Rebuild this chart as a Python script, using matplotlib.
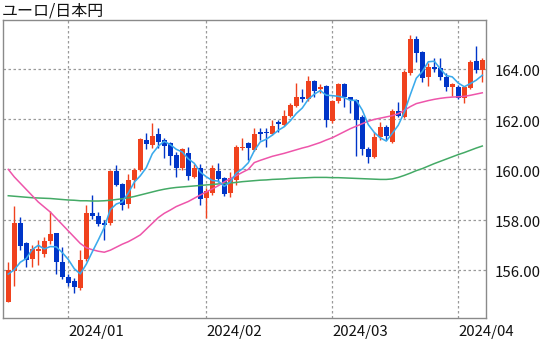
import matplotlib
matplotlib.use("Agg")
import matplotlib.pyplot as plt
import matplotlib.transforms as mtransforms
import numpy as np
import pandas as pd

plt.rcParams["font.family"] = ["Noto Sans CJK JP", "DejaVu Sans"]

title = "ユーロ/日本円"
start_date = "2023-12-18"  # first business day shown

opens = [154.73, 155.95, 157.88, 157.05, 156.43, 156.75, 156.62, 157.15, 157.45, 156.32,
         155.70, 155.54, 155.29, 156.43, 158.25, 158.14, 157.88, 157.85, 159.94, 159.42,
         158.61, 159.58, 159.98, 161.18, 160.97, 161.42, 161.16, 161.04, 160.57, 160.07,
         160.64, 159.70, 160.07, 158.85, 159.05, 159.95, 159.64, 159.07, 159.58, 160.84,
         161.04, 160.77, 161.50, 161.50, 161.41, 161.88, 161.77, 162.13, 162.54, 162.90,
         162.79, 163.54, 163.19, 163.32, 161.93, 162.74, 163.40, 162.87, 162.77, 162.10,
         160.80, 160.51, 161.30, 161.70, 161.10, 162.33, 162.07, 163.83, 165.18, 164.68,
         163.69, 164.09, 164.03, 163.69, 163.27, 163.30, 162.86, 163.23, 164.32, 163.96]
highs = [156.30, 158.55, 158.10, 157.09, 156.99, 157.17, 157.32, 158.34, 157.48, 156.91,
         155.82, 155.69, 156.78, 158.58, 158.98, 158.30, 158.00, 159.98, 160.18, 159.45,
         159.82, 160.04, 161.24, 161.44, 161.83, 161.64, 161.24, 161.10, 160.71, 160.87,
         160.91, 160.20, 160.20, 159.25, 160.18, 160.24, 159.71, 159.91, 160.97, 161.24,
         161.10, 161.64, 161.64, 161.64, 161.97, 161.97, 162.37, 162.63, 163.46, 163.19,
         163.72, 163.56, 163.40, 163.36, 162.77, 163.46, 163.43, 162.90, 162.79, 162.17,
         160.88, 161.50, 161.90, 161.77, 162.39, 162.70, 163.96, 165.35, 165.32, 164.73,
         164.23, 164.43, 164.43, 163.85, 163.46, 163.36, 163.32, 164.36, 164.92, 164.43]
lows = [154.70, 155.37, 156.79, 156.12, 156.12, 156.19, 156.52, 157.01, 155.82, 155.62,
        155.35, 155.09, 155.18, 156.35, 158.01, 157.76, 157.19, 157.80, 159.34, 158.38,
        158.48, 159.25, 159.94, 160.81, 160.84, 160.84, 160.44, 160.18, 159.70, 159.98,
        159.58, 159.64, 158.58, 158.05, 158.98, 159.51, 158.94, 158.91, 159.38, 160.77,
        160.37, 160.75, 161.17, 160.91, 161.37, 161.50, 161.73, 162.08, 162.50, 162.70,
        162.74, 162.90, 163.03, 161.70, 161.86, 162.63, 162.50, 162.23, 160.53, 160.57,
        160.24, 160.44, 161.17, 161.17, 161.07, 162.07, 162.03, 163.76, 164.29, 163.50,
        163.32, 163.89, 163.56, 163.14, 162.92, 162.81, 162.63, 163.19, 163.83, 163.50]
closes = [155.99, 157.88, 156.95, 156.39, 156.83, 156.83, 157.15, 157.43, 156.32, 155.70,
          155.46, 155.31, 156.39, 158.25, 158.16, 157.82, 157.80, 159.94, 159.38, 158.58,
          159.58, 159.97, 161.21, 161.00, 161.34, 161.10, 160.94, 160.55, 160.07, 160.80,
          159.75, 160.04, 158.81, 159.12, 160.07, 159.62, 159.01, 159.64, 160.91, 160.91,
          160.84, 161.41, 161.40, 161.44, 161.73, 161.80, 162.13, 162.57, 162.90, 162.82,
          163.54, 163.14, 163.30, 161.97, 162.74, 163.40, 162.87, 162.77, 161.97, 160.80,
          160.51, 161.30, 161.70, 161.33, 162.33, 162.13, 163.89, 165.18, 164.62, 163.65,
          164.09, 164.00, 163.67, 163.27, 163.39, 162.86, 163.27, 164.29, 163.96, 164.36]

# 5-day average values for the first bars (their window starts before the chart)
ma5_first = [155.83, 156.00, 156.30, 156.45]

ma25 = [160.00, 159.70, 159.45, 159.20, 158.95, 158.70, 158.50, 158.30, 158.05, 157.80,
        157.55, 157.30, 157.05, 156.88, 156.80, 156.74, 156.70, 156.78, 156.90, 157.02,
        157.12, 157.25, 157.39, 157.62, 157.85, 158.08, 158.25, 158.38, 158.52, 158.62,
        158.72, 158.85, 158.98, 159.10, 159.22, 159.35, 159.50, 159.63, 159.75, 159.88,
        160.00, 160.27, 160.36, 160.44, 160.52, 160.58, 160.64, 160.71, 160.78, 160.85,
        160.91, 160.99, 161.07, 161.17, 161.26, 161.38, 161.50, 161.62, 161.72, 161.82,
        161.92, 161.99, 162.04, 162.09, 162.14, 162.22, 162.35, 162.50, 162.62, 162.68,
        162.74, 162.79, 162.83, 162.86, 162.88, 162.89, 162.91, 162.95, 163.00, 163.05]

ma75 = [158.95, 158.93, 158.91, 158.89, 158.87, 158.86, 158.85, 158.84, 158.82, 158.80,
        158.78, 158.77, 158.75, 158.75, 158.74, 158.74, 158.75, 158.77, 158.80, 158.83,
        158.87, 158.92, 158.98, 159.04, 159.10, 159.16, 159.21, 159.25, 159.28, 159.30,
        159.32, 159.34, 159.36, 159.38, 159.40, 159.42, 159.44, 159.46, 159.48, 159.51,
        159.53, 159.55, 159.57, 159.58, 159.60, 159.61, 159.62, 159.64, 159.65, 159.66,
        159.67, 159.68, 159.68, 159.68, 159.67, 159.67, 159.66, 159.65, 159.64, 159.63,
        159.62, 159.61, 159.60, 159.60, 159.62, 159.68, 159.76, 159.85, 159.95, 160.03,
        160.13, 160.23, 160.32, 160.41, 160.50, 160.59, 160.67, 160.76, 160.85, 160.93]

y_ticks = [156, 158, 160, 162, 164]

UP_COLOR = "#f0421e"
DOWN_COLOR = "#0035c8"
MA5_COLOR = "#3aaaec"
MA25_COLOR = "#ee55aa"
MA75_COLOR = "#44aa66"
GRID_COLOR = "#9a9a9a"

o = np.array(opens)
h = np.array(highs)
l = np.array(lows)
c = np.array(closes)
n = len(c)
x = np.arange(n)
dates = pd.bdate_range(start_date, periods=n)

ma5 = pd.Series(c).rolling(5).mean().to_numpy()
ma5[:len(ma5_first)] = ma5_first

fig = plt.figure(figsize=(5.6, 3.44), dpi=100)
ax = fig.add_axes([3 / 560, 26 / 344, 483 / 560, 298 / 344])

colors = np.where(c >= o, UP_COLOR, DOWN_COLOR)
ax.vlines(x, l, h, colors=colors, linewidth=1.0, zorder=2)
body_bottom = np.minimum(o, c)
body_height = np.maximum(np.abs(c - o), 0.04)
ax.bar(x, body_height, bottom=body_bottom, width=0.78, color=colors,
       linewidth=0, zorder=3)

ax.plot(x, ma75, color=MA75_COLOR, lw=1.1, zorder=4)
ax.plot(x, ma25, color=MA25_COLOR, lw=1.1, zorder=4)
ax.plot(x, ma5, color=MA5_COLOR, lw=1.15, zorder=5)

ax.set_xlim(-0.88, n - 0.38)
ax.set_ylim(154.08, 165.95)

# month boundaries on the x axis
month_pos = [i for i in range(1, n) if dates[i].month != dates[i - 1].month]
month_lbl = [dates[i].strftime("%Y/%m") for i in month_pos]
ax.set_xticks(month_pos)
ax.set_xticklabels(month_lbl, ha="left")
ax.set_yticks(y_ticks)
ax.set_yticklabels([f"{v:.2f}" for v in y_ticks])
ax.yaxis.tick_right()
ax.tick_params(axis="both", length=0, labelsize=10.8, colors="#111111")
ax.tick_params(axis="y", pad=6)
ax.tick_params(axis="x", pad=5)

# price labels sit a touch below their grid lines
shift = mtransforms.ScaledTranslation(0, -2 / 100, fig.dpi_scale_trans)
for lab in ax.get_yticklabels():
    lab.set_transform(lab.get_transform() + shift)

ax.grid(True, color=GRID_COLOR, linestyle=(0, (2, 2)), linewidth=0.9, zorder=0)
ax.set_axisbelow(True)
for sp in ax.spines.values():
    sp.set_color("#8a8a8a")
    sp.set_linewidth(1.0)

fig.text(2 / 560, 1 - 2 / 344, title, ha="left", va="top", fontsize=11.5,
         color="#111111")

fig.savefig("out.png", dpi=100)
